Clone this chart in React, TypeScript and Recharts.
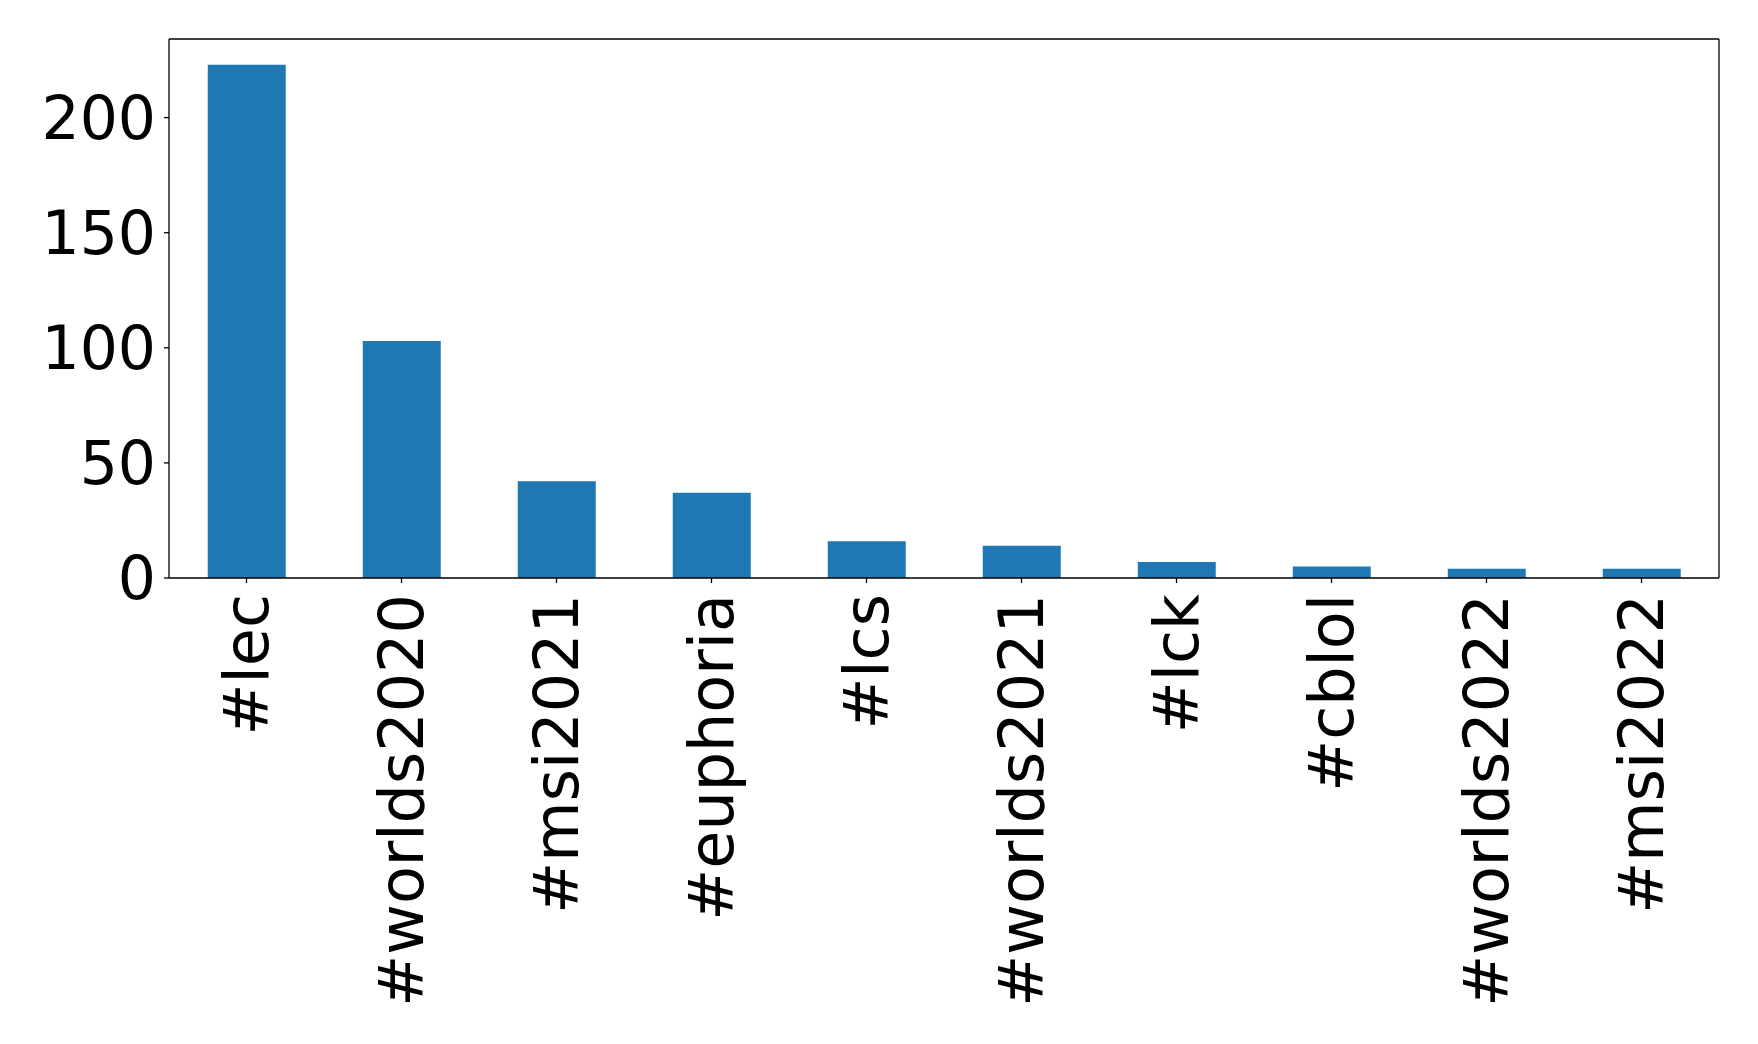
import { BarChart, Bar, XAxis, YAxis, CartesianGrid, ReferenceLine } from 'recharts';

const tags = [
  '#lec',
  '#worlds2020',
  '#msi2021',
  '#euphoria',
  '#lcs',
  '#worlds2021',
  '#lck',
  '#cblol',
  '#worlds2022',
  '#msi2022',
];
const counts = [223, 103, 42, 37, 16, 14, 7, 5, 4, 4];
const yTicks = [0, 50, 100, 150, 200];
const Y_MAX = 234.15;

const data = tags.map((tag, i) => ({ tag, count: counts[i] }));

const FONT = 'DejaVu Sans, sans-serif';
const FONT_SIZE = 62;

function RotatedTick(props: any) {
  const { x, y, payload } = props;
  return (
    <text
      x={0}
      y={0}
      transform={`translate(${x}, ${y + 9}) rotate(-90)`}
      textAnchor="end"
      dominantBaseline="central"
      fontFamily={FONT}
      fontSize={FONT_SIZE}
      fill="#000"
    >
      {payload.value}
    </text>
  );
}

export default function App() {
  return (
    <div style={{ position: 'absolute', left: 0, top: 0, background: '#fff' }}>
      <BarChart
        width={1758}
        height={1044}
        data={data}
        margin={{ top: 39, right: 39, bottom: 0, left: 0 }}
        barCategoryGap="25%"
      >
        {/* frame: right spine via grid */}
        <CartesianGrid
          horizontal={false}
          stroke="#000"
          strokeWidth={1.3}
          verticalCoordinatesGenerator={({ offset }: any) => [offset.left + offset.width]}
        />
        <XAxis
          dataKey="tag"
          interval={0}
          height={466}
          tick={<RotatedTick />}
          tickSize={5}
          axisLine={{ stroke: '#000', strokeWidth: 1.3 }}
          tickLine={{ stroke: '#000', strokeWidth: 1.3 }}
        />
        <YAxis
          width={169}
          domain={[0, Y_MAX]}
          ticks={yTicks}
          interval={0}
          tickSize={5}
          tickMargin={8}
          tick={{ fontFamily: FONT, fontSize: 60, fill: '#000' }}
          axisLine={{ stroke: '#000', strokeWidth: 1.3 }}
          tickLine={{ stroke: '#000', strokeWidth: 1.3 }}
        />
        <ReferenceLine y={Y_MAX} stroke="#000" strokeWidth={1.3} />
        <Bar dataKey="count" fill="#1f77b4" isAnimationActive={false} />
      </BarChart>
    </div>
  );
}
